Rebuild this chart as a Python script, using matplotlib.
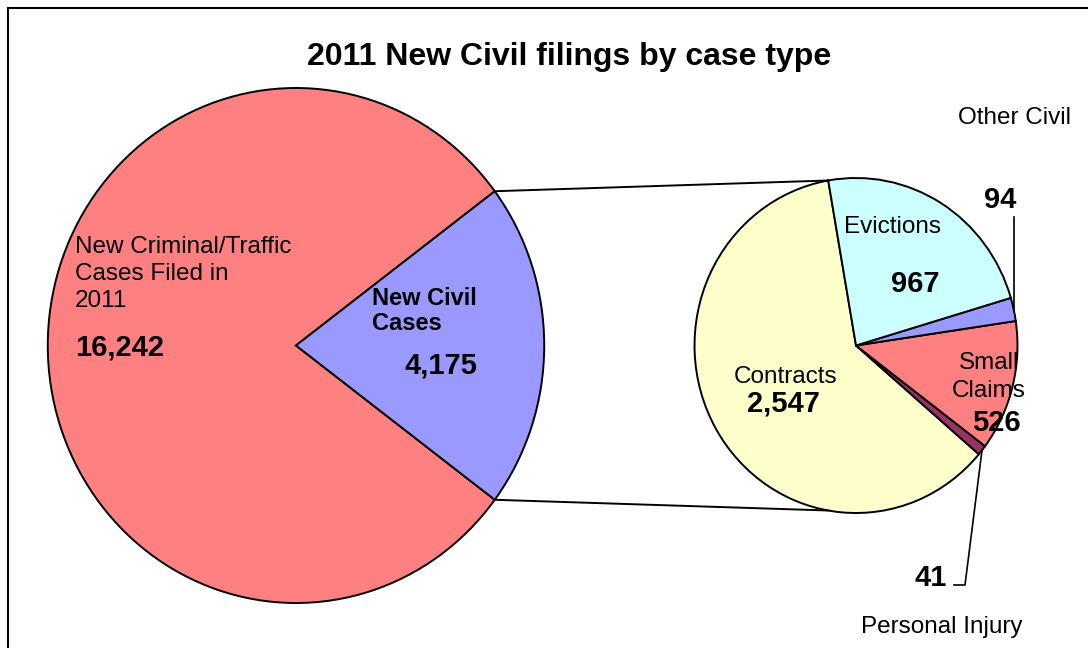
import numpy as np
import matplotlib
matplotlib.use('Agg')
import matplotlib.pyplot as plt
from matplotlib.patches import Rectangle

plt.rcParams['font.family'] = ['Liberation Sans', 'DejaVu Sans']

# data
title = '2011 New Civil filings by case type'
main_labels = ['New Criminal/Traffic\nCases Filed in\n2011', 'New Civil\nCases']
main_values = [16242, 4175]
main_colors = ['#FF8080', '#9999FF']

civil_labels = ['Contracts', 'Personal Injury', 'Small\nClaims', 'Other Civil', 'Evictions']
civil_values = [2547, 41, 526, 94, 967]
civil_colors = ['#FFFFCC', '#993366', '#FF8080', '#9999FF', '#CCFFFF']

# canvas in pixel units (the original is slightly squeezed horizontally)
W, H = 1088, 648
SX = 0.964


def P(px, py):
    return px / SX, H - py


fig = plt.figure(figsize=(W / 100, H / 100), dpi=100)
ax = fig.add_axes([0, 0, 1, 1])

LW = 1.4
edge = dict(edgecolor='black', linewidth=LW)
big_c, big_r = P(296, 345.5), 257.5
small_c, small_r = P(856, 345.5), 167.5

big_start = 180 * main_values[1] / sum(main_values)
ax.pie(main_values, colors=main_colors, center=big_c, radius=big_r,
       startangle=big_start, wedgeprops=edge)
small_start = 99.9
civil_wedges, _ = ax.pie(civil_values, colors=civil_colors, center=small_c,
                         radius=small_r, startangle=small_start, wedgeprops=edge)

ax.set_aspect('auto')
ax.set_xlim(0, W / SX)
ax.set_ylim(0, H)
ax.axis('off')


def on_circle(c, r, ang):
    a = np.radians(ang)
    return c[0] + r * np.cos(a), c[1] + r * np.sin(a)


# connector lines between the two pies
for s in (1, -1):
    x1, y1 = on_circle(big_c, big_r, s * big_start)
    x2, y2 = on_circle(small_c, small_r, s * small_start)
    ax.plot([x1, x2], [y1, y2], color='black', lw=LW)

# leader lines for the small slices
w = civil_wedges[1]
px, py = on_circle(small_c, small_r, (w.theta1 + w.theta2) / 2)
ax.plot([px, 965 / SX, 954 / SX], [py, H - 585, H - 585], color='black', lw=1.2)
w = civil_wedges[3]
px, py = on_circle(small_c, small_r, (w.theta1 + w.theta2) / 2)
ax.plot([px, px], [py, H - 217], color='black', lw=1.2)

# border
ax.add_patch(Rectangle((8 / SX, -20), (W + 20) / SX, H - 8 + 20, fill=False,
                       edgecolor='black', lw=1.5, clip_on=False))

# texts
ax.text(*P(569, 57), title, ha='center', va='center', fontsize=23, fontweight='bold')

ax.text(*P(75, 274), main_labels[0], ha='left', va='center', fontsize=17.5, linespacing=1.32)
ax.text(*P(75, 348), f'{main_values[0]:,}', ha='left', va='center', fontsize=21, fontweight='bold')
ax.text(*P(372, 311), main_labels[1], ha='left', va='center', fontsize=17, fontweight='bold',
        linespacing=1.12)
ax.text(*P(441, 366), f'{main_values[1]:,}', ha='center', va='center', fontsize=21, fontweight='bold')

ax.text(*P(786, 377), civil_labels[0], ha='center', va='center', fontsize=17.5)
ax.text(*P(783, 404), f'{civil_values[0]:,}', ha='center', va='center', fontsize=21, fontweight='bold')
ax.text(*P(893, 227), civil_labels[4], ha='center', va='center', fontsize=17.5)
ax.text(*P(915, 284), f'{civil_values[4]:,}', ha='center', va='center', fontsize=21, fontweight='bold')
ax.text(*P(989, 377), civil_labels[2], ha='center', va='center', fontsize=17.5, linespacing=1.38)
ax.text(*P(996, 423), f'{civil_values[2]:,}', ha='center', va='center', fontsize=21, fontweight='bold')
ax.text(*P(1000, 200), f'{civil_values[3]:,}', ha='center', va='center', fontsize=21, fontweight='bold')
ax.text(*P(1015, 118), civil_labels[3], ha='center', va='center', fontsize=17.5)
ax.text(*P(947, 578), f'{civil_values[1]:,}', ha='right', va='center', fontsize=21, fontweight='bold')
ax.text(*P(942, 627), civil_labels[1], ha='center', va='center', fontsize=17.5)

fig.savefig('out.png', dpi=100)
